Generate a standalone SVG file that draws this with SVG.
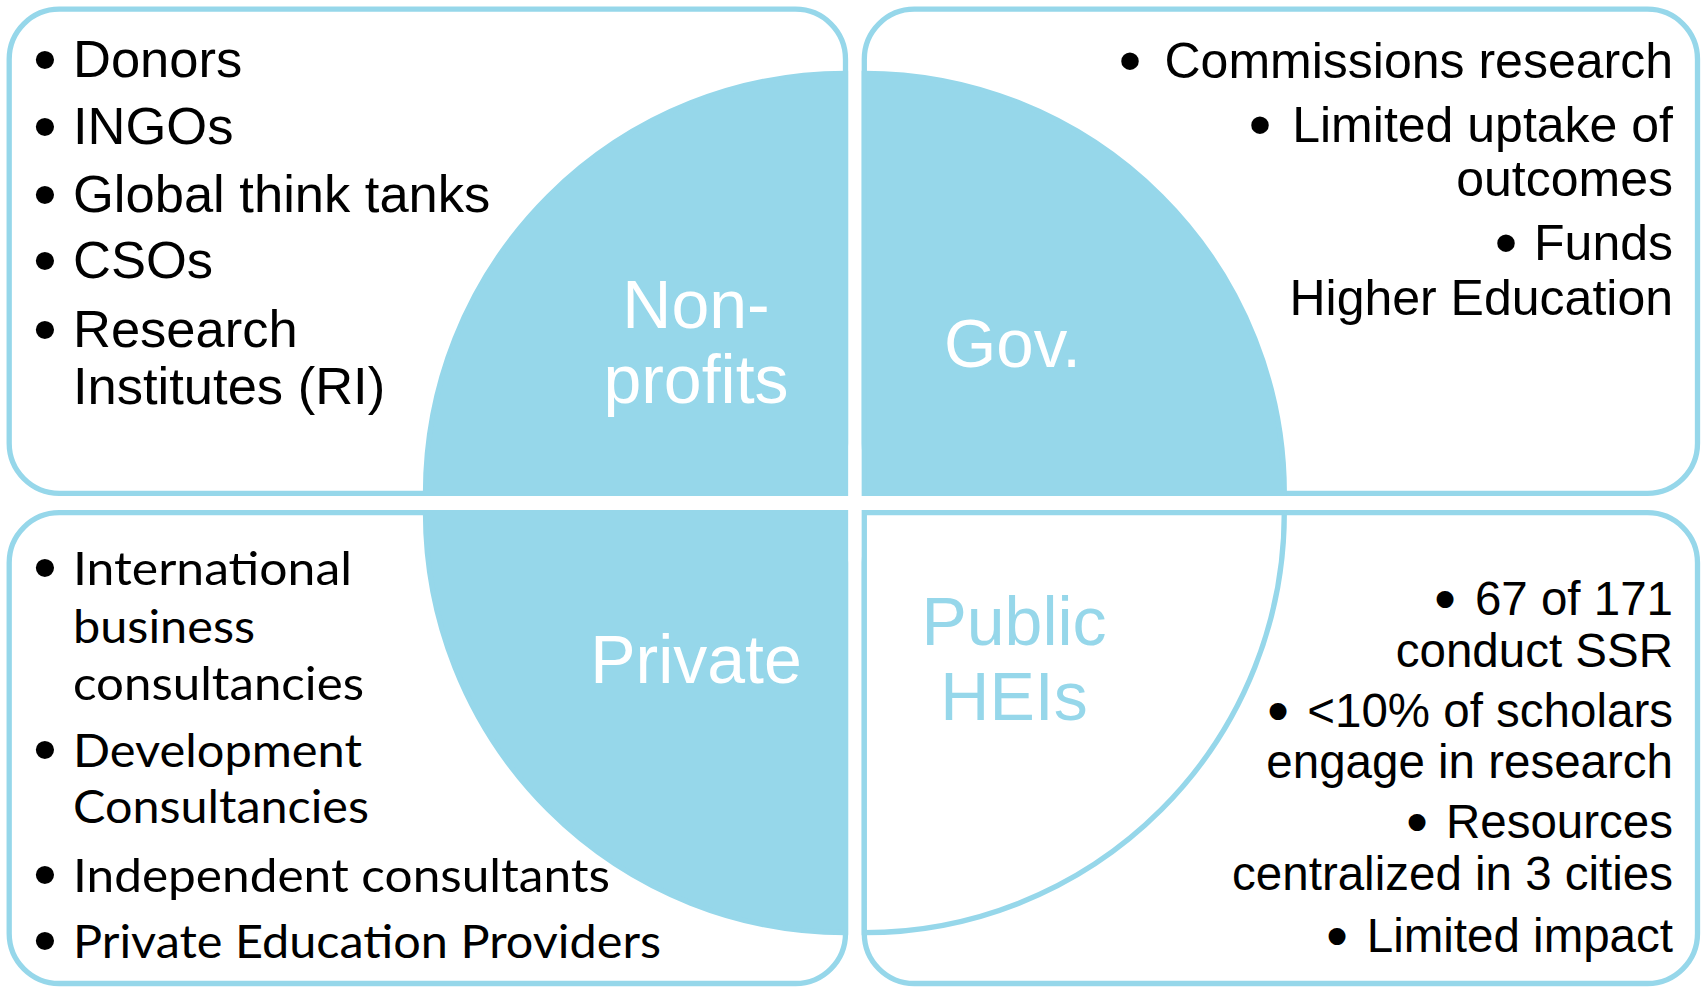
<svg xmlns="http://www.w3.org/2000/svg" width="1701" height="988" viewBox="0 0 1701 988">
<style>
.box{fill:#fff;stroke:#96D7EA;stroke-width:5.3}
.pie{fill:#96D7EA;stroke:#96D7EA;stroke-width:5.3}
.pieo{fill:#fff;stroke:#96D7EA;stroke-width:5.3}
.a{font-family:"Liberation Sans",Arial,sans-serif;fill:#000}
.c{font-family:Lato,"Open Sans",sans-serif;fill:#000;font-size:47px}
.bl{font-family:"Liberation Sans",Arial,sans-serif;fill:#000;stroke:#000;stroke-width:4;stroke-linejoin:round;text-anchor:middle}
.lbl{font-family:"Liberation Sans",Arial,sans-serif;font-size:68px;text-anchor:middle}
.tl{font-size:52.5px}
.tr{font-size:50px;text-anchor:end}
.br{font-size:47.5px;text-anchor:end}
</style>
<rect width="1701" height="988" fill="#fff"/>
<g id="nonprofits">
<rect class="box" x="9.2" y="9.2" width="836.3" height="484.1" rx="50" ry="50"/>
<path class="pie" d="M845.5 493.3 L425.5 493.3 A420 420 0 0 1 845.5 73.3 Z"/>
<text class="lbl" fill="#fff"><tspan x="696" y="328">Non-</tspan><tspan x="696" y="403">profits</tspan></text>
<g class="bl" font-size="52.5px"><text x="45" y="77">•</text><text x="45" y="144">•</text><text x="45" y="212">•</text><text x="45" y="278">•</text><text x="45" y="347">•</text></g>
<text class="a tl"><tspan x="73" y="77">Donors</tspan><tspan x="73" y="144">INGOs</tspan><tspan x="73" y="212">Global think tanks</tspan><tspan x="73" y="278">CSOs</tspan><tspan x="73" y="347">Research</tspan><tspan x="73" y="404">Institutes (RI)</tspan></text>
</g>
<g id="gov">
<rect class="box" x="864.3" y="9.2" width="833.2" height="484.1" rx="50" ry="50"/>
<path class="pie" d="M864.3 493.3 L864.3 73.3 A420 420 0 0 1 1284.3 493.3 Z"/>
<text class="lbl" fill="#fff" x="1012.5" y="367" textLength="137" lengthAdjust="spacingAndGlyphs">Gov.</text>
<g class="bl" font-size="50px"><text x="1130" y="78">•</text><text x="1260" y="142">•</text><text x="1506" y="260">•</text></g>
<text class="a tr"><tspan x="1673" y="78">Commissions research</tspan><tspan x="1673" y="142">Limited uptake of</tspan><tspan x="1673" y="196">outcomes</tspan><tspan x="1673" y="260">Funds</tspan><tspan x="1673" y="315">Higher Education</tspan></text>
</g>
<g id="private">
<rect class="box" x="9.2" y="512.7" width="836.3" height="470.8" rx="50" ry="50"/>
<path class="pie" d="M845.5 512.7 L845.5 932.7 A420 420 0 0 1 425.5 512.7 Z"/>
<text class="lbl" fill="#fff" x="696" y="683">Private</text>
<g class="bl" font-size="52.5px"><text x="45" y="585">•</text><text x="45" y="767">•</text><text x="45" y="892">•</text><text x="45" y="958">•</text></g>
<text class="c" x="73" y="585" textLength="279" lengthAdjust="spacingAndGlyphs">International</text>
<text class="c" x="73" y="643" textLength="182" lengthAdjust="spacingAndGlyphs">business</text>
<text class="c" x="73" y="700" textLength="291" lengthAdjust="spacingAndGlyphs">consultancies</text>
<text class="c" x="73" y="767" textLength="289" lengthAdjust="spacingAndGlyphs">Development</text>
<text class="c" x="73" y="823" textLength="296" lengthAdjust="spacingAndGlyphs">Consultancies</text>
<text class="c" x="73" y="892" textLength="537" lengthAdjust="spacingAndGlyphs">Independent consultants</text>
<text class="c" x="73" y="958" textLength="588" lengthAdjust="spacingAndGlyphs">Private Education Providers</text>
</g>
<g id="public-heis">
<rect class="box" x="864.3" y="512.7" width="833.2" height="470.8" rx="50" ry="50"/>
<path class="pieo" d="M864.3 512.7 L1284.3 512.7 A420 420 0 0 1 864.3 932.7 Z"/>
<text class="lbl" fill="#96D7EA"><tspan x="1014" y="645">Public</tspan><tspan x="1014" y="720">HEIs</tspan></text>
<g class="bl" font-size="47.5px" stroke-width="3.5"><text x="1445" y="615">•</text><text x="1278" y="727">•</text><text x="1417" y="838">•</text><text x="1337" y="952">•</text></g>
<text class="a br"><tspan x="1673" y="615">67 of 171</tspan><tspan x="1673" y="667">conduct SSR</tspan><tspan x="1673" y="727">&lt;10% of scholars</tspan><tspan x="1673" y="778">engage in research</tspan><tspan x="1673" y="838">Resources</tspan><tspan x="1673" y="890">centralized in 3 cities</tspan><tspan x="1673" y="952">Limited impact</tspan></text>
</g>
<g id="connectors"/>
</svg>
